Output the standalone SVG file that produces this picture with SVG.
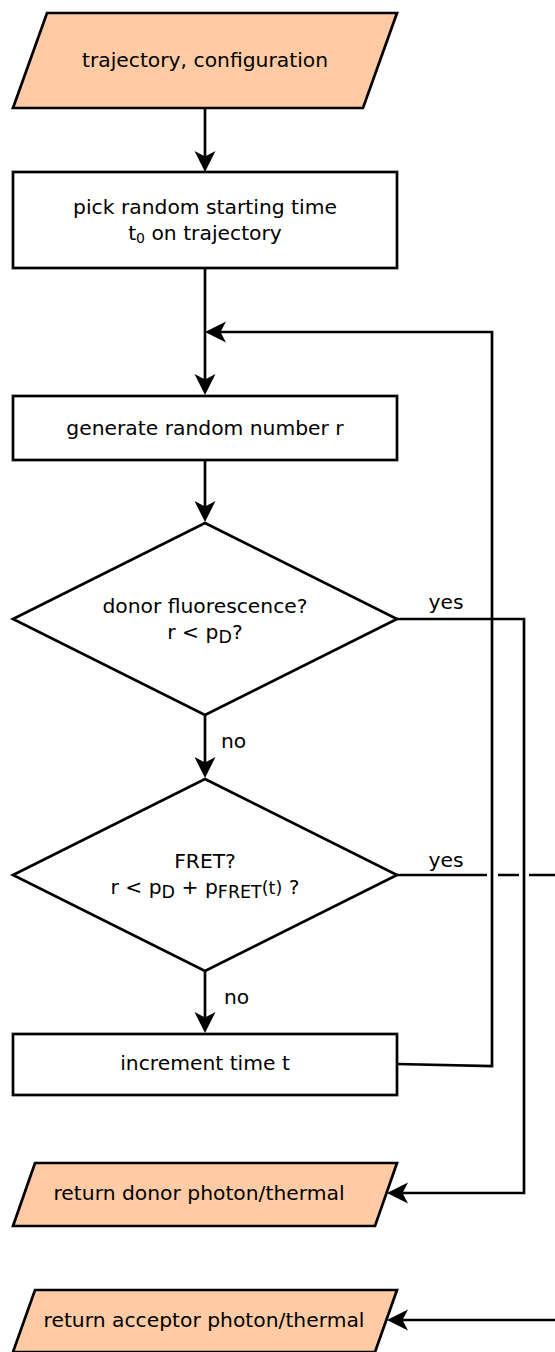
<svg xmlns="http://www.w3.org/2000/svg" width="555" height="1352" viewBox="0 0 555 1352">
  <style>
    .shape { stroke: #000; stroke-width: 2.7; stroke-linejoin: miter; }
    .io { fill: #ffcba4; }
    .box { fill: #fff; }
    .edge { fill: none; stroke: #000; stroke-width: 2.7; }
    text { font-family: "DejaVu Sans", "Liberation Sans", sans-serif; font-size: 20.3px; fill: #000; }
    .c { text-anchor: middle; }
    .sub { font-size: 14px; }
    .idx { font-size: 17.5px; }
  </style>
  <defs>
    <marker id="arrow" markerUnits="userSpaceOnUse" viewBox="-23 -12 25 24" markerWidth="25" markerHeight="24" refX="-10" refY="0" orient="auto">
      <path d="M0,0 L-21,-10.5 L-15.5,0 L-21,10.5 Z" fill="#000"/>
    </marker>
  </defs>

  <!-- connectors -->
  <g id="connectors">
    <path class="edge" d="M205,108 V162" marker-end="url(#arrow)"/>
    <path class="edge" d="M205,268 V385" marker-end="url(#arrow)"/>
    <path class="edge" d="M397,1064 L492,1066 V332 H215" marker-end="url(#arrow)"/>
    <path class="edge" d="M205,460 V512" marker-end="url(#arrow)"/>
    <path class="edge" d="M397,619 H524 V1193 H397" marker-end="url(#arrow)"/>
    <path class="edge" d="M205,715 V768" marker-end="url(#arrow)"/>
    <!-- FRET yes branch, broken where it jumps the two vertical lines -->
    <path class="edge" d="M397,875 H487 M498,875 H519"/>
    <path class="edge" d="M529,875 H575 V1320 H397" marker-end="url(#arrow)"/>
    <path class="edge" d="M205,970 V1023" marker-end="url(#arrow)"/>
    <text x="446" y="609" class="c">yes</text>
    <text x="446" y="867" class="c">yes</text>
    <text x="221" y="748">no</text>
    <text x="224" y="1004">no</text>
  </g>

  <g id="input">
    <polygon class="shape io" points="47,13 397,13 363,108 13,108"/>
    <text x="205" y="67" class="c">trajectory, configuration</text>
  </g>

  <g id="pick-start">
    <rect class="shape box" x="13" y="172" width="384" height="96"/>
    <text x="205" y="214" class="c">pick random starting time</text>
    <text x="205" y="240" class="c">t<tspan class="sub" dy="3">0</tspan><tspan dy="-3"> on trajectory</tspan></text>
  </g>

  <g id="random-number">
    <rect class="shape box" x="13" y="396" width="384" height="64"/>
    <text x="205" y="435" class="c">generate random number r</text>
  </g>

  <g id="donor-decision">
    <polygon class="shape box" points="205,523 397,619 205,715 13,619"/>
    <text x="205" y="613" class="c">donor fluorescence?</text>
    <text x="205" y="639" class="c">r &lt; p<tspan class="idx" dy="4">D</tspan><tspan dy="-4">?</tspan></text>
  </g>

  <g id="fret-decision">
    <polygon class="shape box" points="205,779 397,875 205,971 13,875"/>
    <text x="205" y="868" class="c">FRET?</text>
    <text x="205" y="894" class="c">r &lt; p<tspan class="idx" dy="4">D</tspan><tspan dy="-4"> + p</tspan><tspan class="idx" dy="4">FRET</tspan><tspan class="idx" dy="-4">(t)</tspan> ?</text>
  </g>

  <g id="increment-time">
    <rect class="shape box" x="13" y="1034" width="384" height="61"/>
    <text x="205" y="1070" class="c">increment time t</text>
  </g>

  <g id="donor-output">
    <polygon class="shape io" points="35,1163 397,1163 375,1226 13,1226"/>
    <text x="199" y="1200" class="c">return donor photon/thermal</text>
  </g>

  <g id="acceptor-output">
    <polygon class="shape io" points="35,1290 397,1290 375,1352 13,1352"/>
    <text x="204" y="1327" class="c">return acceptor photon/thermal</text>
  </g>
</svg>
